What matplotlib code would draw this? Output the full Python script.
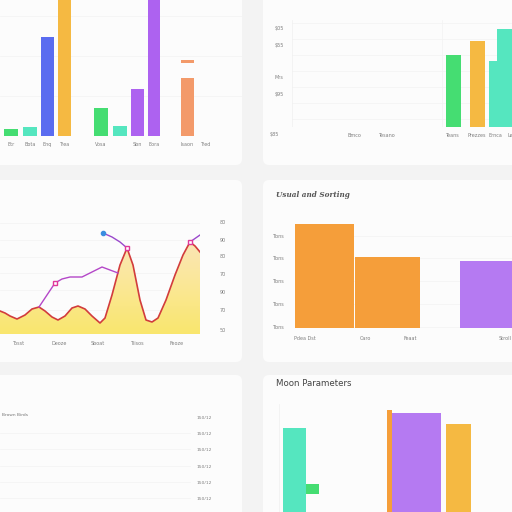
import matplotlib.pyplot as plt
import numpy as np
from matplotlib.patches import FancyBboxPatch

W = 512.0

# ---------------- data ----------------
# panel 1 (top left)
p1_labels = ["Etr", "Bota", "Enq", "Trea", "Vosa", "", "Sbn", "Eora", "Isaon", "Tred"]
p1_vals = [7, 9, 99, 150, 28, 10, 47, 150, 58, 0]
p1_cap = 76
# panel 2 (top right)
p2_labels = ["Bmco", "Tesano", "Teans", "Prezzes", "Ernca", "Le"]
p2_vals = [72, 86, 66, 98]
p2_yticks = [99, 82, 50, 33]
p2_ylabels = ["$05", "$55", "Mrs", "$95"]
# panel 3 (middle left)
p3_x = [0, 5, 10, 17, 25, 32, 39, 45, 52, 58, 65, 72, 78, 85, 92, 100, 105, 112,
        120, 127, 133, 140, 146, 152, 158, 166, 175, 183, 190, 195, 200]
p3_red = [23, 21, 18, 15, 19, 25, 27, 23, 17, 14, 18, 26, 28, 25, 18, 11, 16, 39,
          69, 86, 69, 34, 14, 12, 16, 34, 59, 79, 92, 88, 82]
p3_pur1_x = [39, 47, 55, 62, 70, 82, 92, 102, 110, 118]
p3_pur1 = [27, 39, 51, 55, 57, 57, 62, 67, 64, 61]
p3_pur2_x = [103, 112, 120, 127]
p3_pur2 = [101, 97, 92, 86]
p3_pur3_x = [190, 200]
p3_pur3 = [92, 99]
p3_labels = ["Tosst", "Deoze", "Sboat", "Tiisos", "Feoze"]
p3_right = ["80", "90", "80", "70", "90", "70", "50"]
# panel 4 (middle right)
p4_vals = [104, 71, 67]
p4_labels = ["Pdea Dst", "Caro", "Feaat", "Stroll"]
p4_ylabels = ["Tbns", "Tbns", "Tbns", "Tbns", "Tbns"]
# panel 5 (bottom left)
p5_rows = ["150/12", "150/12", "150/12", "150/12", "150/12", "150/12"]
# panel 6 (bottom right)
p6_vals = [84, 102, 99, 88]
p6_small = 10

green = "#45dd72"
teal = "#55e6bf"
blue = "#5a6cf0"
yellow = "#f5b942"
purple = "#ad62f0"
salmon = "#f39a6a"
orange = "#f59e3a"
lilac = "#b57af2"
txt = "#7f7f7f"
gridc = "#f3f3f3"


def rect(x0, y0, x1, y1):
    return [x0 / W, 1 - y1 / W, (x1 - x0) / W, (y1 - y0) / W]


def clean(ax):
    ax.set_facecolor("none")
    for s in ax.spines.values():
        s.set_visible(False)
    ax.tick_params(length=0, labelsize=3.5, labelcolor=txt)


fig = plt.figure(figsize=(5.12, 5.12), dpi=100)
fig.patch.set_facecolor("#f3f3f3")

# cards
for (x0, y0, x1, y1) in [(-10, -10, 242, 165), (263, -10, 520, 165),
                         (-10, 180, 242, 362), (263, 180, 520, 362),
                         (-10, 375, 242, 520), (263, 375, 520, 520)]:
    fig.patches.append(FancyBboxPatch((x0 / W, 1 - y1 / W), (x1 - x0) / W, (y1 - y0) / W,
                                      boxstyle="round,pad=0,rounding_size=0.012",
                                      transform=fig.transFigure, fc="#fcfcfc", ec="none",
                                      zorder=-5))

# ---------- panel 1 ----------
ax1 = fig.add_axes(rect(0, 0, 242, 136))
clean(ax1)
pos1 = [11, 30, 47.5, 64.5, 101, 120, 137.5, 154, 187.5, 205]
wid1 = [14, 14, 13, 13, 14, 14, 13, 12, 13, 0]
col1 = [green, teal, blue, yellow, green, teal, purple, purple, salmon, salmon]
ax1.bar(pos1, p1_vals, width=wid1, color=col1, zorder=3)
ax1.bar(pos1[8], 3, bottom=p1_cap - 3, width=wid1[8], color=salmon, zorder=3)
ax1.set_xlim(0, 242)
ax1.set_ylim(0, 136)
ax1.set_yticks([40, 80, 120])
ax1.set_yticklabels([])
ax1.grid(axis="y", color=gridc, lw=0.5, zorder=0)
ax1.set_xticks(pos1)
ax1.set_xticklabels(p1_labels)
ax1.tick_params(axis="x", pad=4)

# ---------- panel 2 ----------
ax2 = fig.add_axes(rect(292, 20, 512, 127))
clean(ax2)
ax2.bar([453.5, 477.5, 493, 504.5], p2_vals, width=[15, 15, 8, 15],
        color=[green, yellow, teal, teal], zorder=3)
ax2.set_xlim(292, 512)
ax2.set_ylim(0, 107)
ax2.set_yticks(p2_yticks)
ax2.set_yticklabels(p2_ylabels)
ax2.tick_params(axis="y", pad=6)
for g in range(8, 107, 16):
    ax2.axhline(g, color=gridc, lw=0.5, zorder=0)
ax2.axvline(292, color="#f0f0f0", lw=0.5)
ax2.axvline(442, color=gridc, lw=0.5)
ax2.set_xticks([354, 386, 452, 477, 495, 510])
ax2.set_xticklabels(p2_labels)
ax2.tick_params(axis="x", pad=4)
ax2.text(-0.06, -0.07, "$85", transform=ax2.transAxes, fontsize=3.5, color=txt,
         ha="right", va="center")

# ---------- panel 3 ----------
ax3 = fig.add_axes(rect(0, 222, 200, 334))
clean(ax3)
ax3.set_xlim(0, 200)
ax3.set_ylim(0, 112)
for g in [1, 24, 44, 61, 77, 94, 111]:
    ax3.axhline(g, color=gridc, lw=0.5, zorder=0)
fill = ax3.fill_between(p3_x, p3_red, 0, color="none", zorder=1)
grad = np.linspace(0, 1, 100).reshape(-1, 1)
img = ax3.imshow(grad, extent=[0, 200, 0, 112], origin="lower", aspect="auto",
                 cmap=plt.matplotlib.colors.LinearSegmentedColormap.from_list(
                     "y", ["#f9e66e", "#fbe89c", "#fae2c2"]), zorder=1)
img.set_clip_path(fill.get_paths()[0], transform=ax3.transData)
ax3.plot(p3_x, p3_red, color="#d23c3c", lw=1.2, zorder=3, solid_joinstyle="round")
ax3.plot(p3_pur1_x, p3_pur1, color="#b447c8", lw=1.0, zorder=4)
ax3.plot(p3_pur2_x, p3_pur2, color="#9a48cc", lw=1.0, zorder=4)
ax3.plot(p3_pur3_x, p3_pur3, color="#9a48cc", lw=1.0, zorder=4)
ax3.plot([55, 127, 190], [51, 86, 92], "s", ms=3, mfc="white", mec="#e0389a", mew=1, zorder=5)
ax3.plot([103], [101], "o", ms=3, color="#3a8ee0", zorder=5)
ax3.set_xticks([18, 59, 98, 137, 177])
ax3.set_xticklabels(p3_labels)
ax3.tick_params(axis="x", pad=5)
ax3.set_yticks([])
for yy, lab in zip([223, 240, 257, 274, 292, 311, 331], p3_right):
    fig.text(223 / W, 1 - yy / W, lab, fontsize=3.5, color=txt, ha="center", va="center")

# ---------- panel 4 ----------
fig.text(276 / W, 1 - 195 / W, "Usual and Sorting", fontsize=5.2, color="#555555",
         weight="bold", style="italic", family="DejaVu Serif", va="center")
ax4 = fig.add_axes(rect(295, 222, 512, 328))
clean(ax4)
ax4.bar([295, 355, 460], p4_vals, width=[59, 65, 52], align="edge",
        color=[orange, orange, lilac], zorder=3)
ax4.set_xlim(295, 512)
ax4.set_ylim(0, 106)
ax4.set_yticks([92, 70, 47, 24, 1])
ax4.set_yticklabels(p4_ylabels)
ax4.tick_params(axis="y", pad=8)
ax4.grid(axis="y", color=gridc, lw=0.5, zorder=0)
ax4.set_xticks([305, 365, 410, 505])
ax4.set_xticklabels(p4_labels)
ax4.tick_params(axis="x", pad=6)

# ---------- panel 5 ----------
ax5 = fig.add_axes(rect(0, 405, 242, 505))
clean(ax5)
ax5.set_xlim(0, 242)
ax5.set_ylim(505, 405)
ax5.set_xticks([])
ax5.set_yticks([])
ax5.text(2, 415, "Brown Birds", fontsize=3.2, color="#777777", va="center")
for i, lab in enumerate(p5_rows):
    yy = 418 + i * 16.2
    ax5.text(204, yy, lab, fontsize=3.2, color=txt, ha="center", va="center")
    if i > 0:
        ax5.axhline(yy - 1, xmax=190 / 242, color=gridc, lw=0.5)

# ---------- panel 6 ----------
fig.text(276 / W, 1 - 384 / W, "Moon Parameters", fontsize=6.2, color="#444444",
         va="center")
ax6 = fig.add_axes(rect(279, 398, 512, 512))
clean(ax6)
ax6.set_xlim(279, 512)
ax6.set_ylim(0, 114)
ax6.bar([283, 387, 392, 446], p6_vals, width=[23, 5, 49, 25], align="edge",
        color=[teal, orange, lilac, yellow], zorder=3)
ax6.bar(306, p6_small, bottom=18, width=13, align="edge", color=green, zorder=3)
ax6.axvline(279, ymin=0, ymax=0.95, color="#f0f0f0", lw=0.5)
ax6.set_xticks([])
ax6.set_yticks([])

fig.savefig("out.png", dpi=100)
